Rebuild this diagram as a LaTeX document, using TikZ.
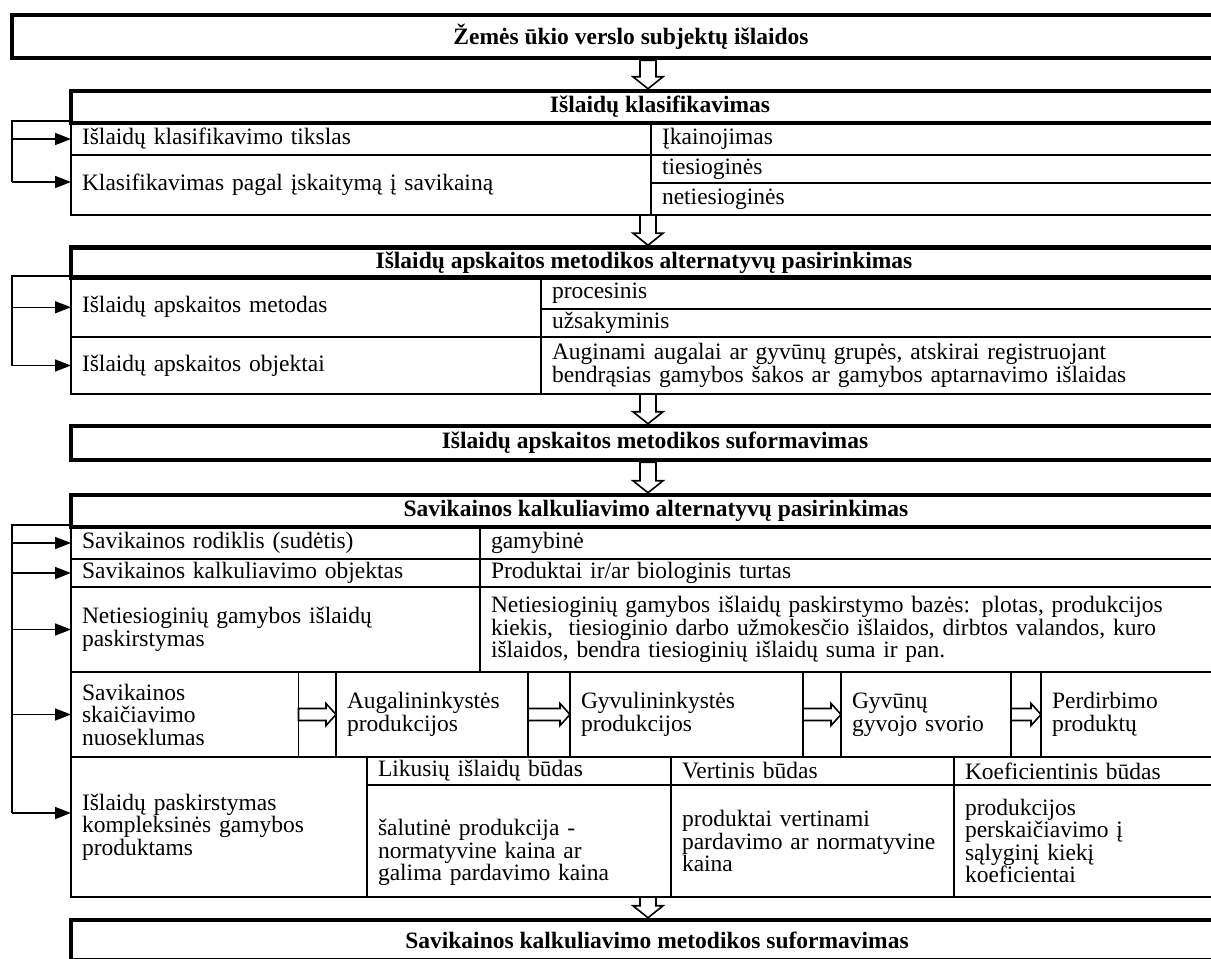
\documentclass[tikz,border=0pt]{standalone}
\usepackage{fontspec}
\setmainfont{Liberation Serif}
\usetikzlibrary{arrows.meta,calc}

\begin{document}
\begin{tikzpicture}[
  x=1pt, y=-1pt,
  every node/.style={font=\fontsize{23.5}{22.5}\selectfont},
  cell/.style={draw, line width=1.6pt, anchor=north west, inner xsep=11pt, inner ysep=0pt, outer sep=0pt, align=left},
  cellsize/.code 2 args={\pgfmathsetlengthmacro\celltw{#1pt-22pt}%
    \pgfkeysalso{minimum width=#1pt, minimum height=#2pt, text width/.expanded=\celltw}},
  titlebox/.style={draw, line width=4.5pt, inner sep=0pt, font=\fontsize{23.5}{22.5}\selectfont\bfseries},
  fbline/.style={line width=1.5pt},
  fbarrow/.style={line width=1.5pt, -{Triangle[length=16pt,width=12pt]}},
  blockdown/.style={draw, line width=1.6pt, fill=white, to path={
    let \p1=(\tikztostart), \p2=(\tikztotarget) in
    (\x1-8pt,\y1) -- (\x1+8pt,\y1) -- (\x1+8pt,\y2+12pt) -- (\x1+15pt,\y2+12pt)
    -- (\x1,\y2) -- (\x1-15pt,\y2+12pt) -- (\x1-8pt,\y2+12pt) -- cycle}},
  blockright/.style={draw, line width=1.6pt, fill=white, to path={
    let \p1=(\tikztostart), \p2=(\tikztotarget) in
    (\x1,\y1+6pt) -- (\x2-10pt,\y1+6pt) -- (\x2-10pt,\y1+11pt) -- (\x2,\y1)
    -- (\x2-10pt,\y1-11pt) -- (\x2-10pt,\y1-6pt) -- (\x1,\y1-6pt) -- cycle}}
]
\useasboundingbox (0,0) rectangle (1211,959);
\clip (0,0) rectangle (1211,959);

\coordinate (axis) at (648,0);

% classification
\node[cell, cellsize={580}{32}] (clgoal) at (71,123) {Išlaidų klasifikavimo tikslas};
\node[cell, cellsize={580}{60}] (clbase) at (71,155) {Klasifikavimas pagal įskaitymą į savikainą};
\node[cell, cellsize={589}{32}] (clprice) at (651,123) {Įkainojimas};
\node[cell, cellsize={589}{28}] (cldirect) at (651,155) {tiesioginės};
\node[cell, cellsize={589}{32}] (clindirect) at (651,183) {netiesioginės};

% accounting method
\node[cell, cellsize={470}{59.5}] (mmethod) at (71,277.5) {Išlaidų apskaitos metodas};
\node[cell, cellsize={470}{57}] (mobject) at (71,337) {Išlaidų apskaitos objektai};
\node[cell, cellsize={699}{31.5}] (mprocess) at (541,277.5) {procesinis};
\node[cell, cellsize={699}{28}] (morder) at (541,309) {užsakyminis};
\node[cell, cellsize={699}{57}] (mgroups) at (541,337) {Auginami augalai ar gyvūnų grupės, atskirai registruojant\\bendrąsias gamybos šakos ar gamybos aptarnavimo išlaidas};

% costing
\node[cell, cellsize={409}{32}] (cindex) at (71,527) {Savikainos rodiklis (sudėtis)};
\node[cell, cellsize={409}{28}] (cobject) at (71,559) {Savikainos kalkuliavimo objektas};
\node[cell, cellsize={409}{85}] (cindirect) at (71,587) {Netiesioginių gamybos išlaidų\\paskirstymas};
\node[cell, cellsize={760}{32}] (cprod) at (480,527) {gamybinė};
\node[cell, cellsize={760}{28}] (cassets) at (480,559) {Produktai ir/ar biologinis turtas};
\node[cell, cellsize={760}{85}] (cbases) at (480,587) {Netiesioginių gamybos išlaidų paskirstymo bazės: plotas, produkcijos\\kiekis,\ \ tiesioginio darbo užmokesčio išlaidos, dirbtos valandos, kuro\\išlaidos, bendra tiesioginių išlaidų suma ir pan.};

% sequence
\node[cell, cellsize={227.5}{85}] (sorder) at (71,672) {Savikainos\\skaičiavimo\\nuoseklumas};
\node[cell, cellsize={192}{85}] (scrop) at (336,672) {Augalininkystės\\produkcijos};
\node[cell, cellsize={233}{85}] (slive) at (570,672) {Gyvulininkystės\\produkcijos};
\node[cell, cellsize={170}{85}] (sweight) at (841,672) {Gyvūnų\\gyvojo svorio};
\node[cell, cellsize={199}{85}] (sproc) at (1041,672) {Perdirbimo\\produktų};

% joint products
\node[cell, cellsize={296}{140}] (jalloc) at (71,757) {Išlaidų paskirstymas\\kompleksinės gamybos\\produktams};
\node[cell, cellsize={304}{28}] (jresid) at (367,757) {Likusių išlaidų būdas};
\node[cell, cellsize={283}{28}] (jvalue) at (671,757) {Vertinis būdas};
\node[cell, cellsize={286}{28}] (jcoef) at (954,757) {Koeficientinis būdas};
\node[cell, cellsize={304}{112}] (jresidtx) at (367,785) {\rule{0pt}{40pt}šalutinė produkcija -\\normatyvine kaina ar\\galima pardavimo kaina};
\node[cell, cellsize={283}{112}] (jvaluetx) at (671,785) {produktai vertinami\\pardavimo ar normatyvine\\kaina};
\node[cell, cellsize={286}{112}] (jcoeftx) at (954,785) {produkcijos\\perskaičiavimo į\\sąlyginį kiekį\\koeficientai};

% title boxes
\node[titlebox, minimum width=1238pt, minimum height=43pt] (expenses) at (631,36.5) {Žemės ūkio verslo subjektų išlaidos};
\node[titlebox, minimum width=1178pt, minimum height=32pt] (classif) at (660,107) {Išlaidų klasifikavimas};
\node[titlebox, minimum width=1146pt, minimum height=30pt] (methalt) at (644,262.5) {Išlaidų apskaitos metodikos alternatyvų pasirinkimas};
\node[titlebox, minimum width=1168pt, minimum height=34pt] (methform) at (655,443) {Išlaidų apskaitos metodikos suformavimas};
\node[titlebox, minimum width=1170pt, minimum height=32pt] (costalt) at (656,511) {Savikainos kalkuliavimo alternatyvų pasirinkimas};
\node[titlebox, minimum width=1172pt, minimum height=40pt] (costform) at (657,940) {Savikainos kalkuliavimo metodikos suformavimas};

% flow arrows
\draw[blockdown] (expenses.south -| axis) to (classif.north -| axis);
\draw[blockdown] (clindirect.south -| axis) to (methalt.north -| axis);
\draw[blockdown] (mgroups.south -| axis) to (methform.north -| axis);
\draw[blockdown] (methform.south -| axis) to (costalt.north -| axis);
\draw[blockdown] (jresidtx.south -| axis) to (costform.north -| axis);

\draw[blockright] (sorder.east) to (scrop.west);
\draw[blockright] (scrop.east) to (slive.west);
\draw[blockright] (slive.east) to (sweight.west);
\draw[blockright] (sweight.east) to (sproc.west);

% side arrows
\coordinate (fbA) at (12,121);
\coordinate (fbB) at (12,182);
\draw[fbline] (fbA -| clgoal.west) -- (fbA) -- (fbB);
\draw[fbarrow] (fbA |- clgoal.west) -- (clgoal.west);
\draw[fbarrow] (fbB) -- (fbB -| clbase.west);

\coordinate (fbC) at (12,276);
\draw[fbline] (fbC -| mmethod.west) -- (fbC) -- (fbC |- mobject.west);
\draw[fbarrow] (fbC |- mmethod.west) -- (mmethod.west);
\draw[fbarrow] (fbC |- mobject.west) -- (mobject.west);

\coordinate (fbE) at (12,525);
\coordinate (fbF) at (12,813);
\draw[fbline] (fbE -| cindex.west) -- (fbE) -- (fbF);
\draw[fbarrow] (fbE |- cindex.west) -- (cindex.west);
\draw[fbarrow] (fbE |- cobject.west) -- (cobject.west);
\draw[fbarrow] (fbE |- cindirect.west) -- (cindirect.west);
\draw[fbarrow] (fbE |- sorder.west) -- (sorder.west);
\draw[fbarrow] (fbF) -- (fbF -| jalloc.west);
\end{tikzpicture}
\end{document}
